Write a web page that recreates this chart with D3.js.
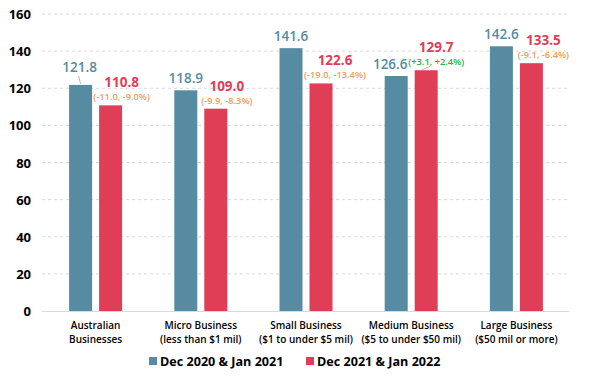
<!DOCTYPE html>
<html>
<head>
<meta charset="utf-8">
<script src="https://cdn.jsdelivr.net/npm/d3@7"></script>
<style>
  body { margin: 0; background: #fff; }
  text { font-family: "Open Sans", "Noto Sans", sans-serif; }
</style>
</head>
<body>
<div id="chart"></div>
<script>
// data
const categories = ["Australian|Businesses", "Micro Business|(less than $1 mil)", "Small Business|($1 to under $5 mil)",
                    "Medium Business|($5 to under $50 mil)", "Large Business|($50 mil or more)"];
const seriesNames = ["Dec 2020 & Jan 2021", "Dec 2021 & Jan 2022"];
const values2021 = [121.8, 118.9, 141.6, 126.6, 142.6];
const values2022 = [110.8, 109.0, 122.6, 129.7, 133.5];
const changes = ["(-11.0, -9.0%)", "(-9.9, -8.3%)", "(-19.0, -13.4%)", "(+3.1, +2.4%)", "(-9.1, -6.4%)"];
const yTicks = [0, 20, 40, 60, 80, 100, 120, 140, 160];

const width = 589, height = 383;
const marginLeft = 43, marginRight = 20, marginTop = 14, marginBottom = 72;

const blue = "#568ba1", red = "#e03e56", orange = "#f29a55", green = "#22b24c";

// label nudges (layout only)
const blueNudge = [[-1, -6], [0, 0], [0, 0], [-6, 0], [0, 0]];
const redNudge = [[11, 0], [11, 0], [14, 0], [10, 0], [12, 0]];

const svg = d3.select("#chart").append("svg")
    .attr("width", width)
    .attr("height", height);

const x = d3.scaleBand().domain(categories).range([marginLeft, width - marginRight]);
const y = d3.scaleLinear().domain([0, 160]).range([height - marginBottom, marginTop]);

// grid
svg.append("g")
    .selectAll("line")
    .data(yTicks.filter(d => d > 0))
    .enter()
    .append("line")
    .attr("x1", marginLeft - 1)
    .attr("x2", width - marginRight)
    .attr("y1", d => y(d))
    .attr("y2", d => y(d))
    .attr("stroke", "#d9d9d9")
    .attr("stroke-width", 1)
    .attr("stroke-dasharray", "3,3");

svg.append("line")
    .attr("x1", marginLeft - 1)
    .attr("x2", width - marginRight)
    .attr("y1", y(0) + 0.5)
    .attr("y2", y(0) + 0.5)
    .attr("stroke", "#d9d9d9");

// y axis labels
svg.append("g")
    .selectAll("text")
    .data(yTicks)
    .enter()
    .append("text")
    .attr("x", 31)
    .attr("y", d => y(d) + 5)
    .attr("text-anchor", "end")
    .attr("font-size", 13)
    .attr("font-weight", "bold")
    .attr("fill", "#000")
    .text(d => d);

const barW = 23, gap = 3.5;
const center = c => x(c) + x.bandwidth() / 2;

// bars
svg.append("g")
    .selectAll("rect")
    .data(values2021)
    .enter()
    .append("rect")
    .attr("x", (d, i) => center(categories[i]) - gap - barW)
    .attr("y", d => y(d))
    .attr("width", barW)
    .attr("height", d => y(0) - y(d))
    .attr("fill", blue);

svg.append("g")
    .selectAll("rect")
    .data(values2022)
    .enter()
    .append("rect")
    .attr("x", (d, i) => center(categories[i]) + gap)
    .attr("y", d => y(d))
    .attr("width", barW)
    .attr("height", d => y(0) - y(d))
    .attr("fill", red);

// blue value labels
svg.append("g")
    .selectAll("text")
    .data(values2021)
    .enter()
    .append("text")
    .attr("x", (d, i) => center(categories[i]) - gap - barW / 2 + blueNudge[i][0])
    .attr("y", (d, i) => y(d) - 7 + blueNudge[i][1])
    .attr("text-anchor", "middle")
    .attr("font-size", 13.5)
    .attr("font-weight", 600)
    .attr("fill", blue)
    .text(d => d.toFixed(1));

// red value labels + change annotation
svg.append("g")
    .selectAll("text")
    .data(values2022)
    .enter()
    .append("text")
    .attr("x", (d, i) => center(categories[i]) + gap + barW / 2 + redNudge[i][0])
    .attr("y", (d, i) => y(d) - 18)
    .attr("text-anchor", "middle")
    .attr("font-size", 13.5)
    .attr("font-weight", "bold")
    .attr("fill", red)
    .text(d => d.toFixed(1));

svg.append("g")
    .selectAll("text")
    .data(values2022)
    .enter()
    .append("text")
    .attr("x", (d, i) => center(categories[i]) + gap + barW / 2 + redNudge[i][0])
    .attr("y", (d, i) => y(d) - 5)
    .attr("text-anchor", "middle")
    .attr("font-size", 9.3)
    .attr("font-weight", 600)
    .attr("fill", (d, i) => changes[i].startsWith("(+") ? green : orange)
    .text((d, i) => changes[i]);

// leader lines
const bx0 = center(categories[0]) - gap - barW / 2;
svg.append("line")
    .attr("x1", bx0 - 2).attr("y1", y(values2021[0]) - 9)
    .attr("x2", bx0).attr("y2", y(values2021[0]) - 1)
    .attr("stroke", "#a6a6a6").attr("stroke-width", 0.8);
const rx3 = center(categories[3]) + gap + barW / 2;
svg.append("line")
    .attr("x1", rx3 - 4).attr("y1", y(values2022[3]) - 0.5)
    .attr("x2", rx3 + 4).attr("y2", y(values2022[3]) - 4)
    .attr("stroke", "#a6a6a6").attr("stroke-width", 0.8);

// category labels
const catG = svg.append("g")
    .selectAll("text")
    .data(categories)
    .enter()
    .append("text")
    .attr("x", d => center(d))
    .attr("y", y(0) + 18)
    .attr("text-anchor", "middle")
    .attr("font-size", 10)
    .attr("font-weight", 600)
    .attr("fill", "#000");

catG.selectAll("tspan")
    .data(d => d.split("|"))
    .enter()
    .append("tspan")
    .attr("x", function () { return d3.select(this.parentNode).attr("x"); })
    .attr("dy", (d, i) => i === 0 ? 0 : 14)
    .text(d => d);

// legend
const legendX = [149, 306];
const legend = svg.append("g")
    .selectAll("g")
    .data(seriesNames)
    .enter()
    .append("g")
    .attr("transform", (d, i) => `translate(${legendX[i]}, 361)`);

legend.append("rect")
    .attr("x", 0)
    .attr("y", -4)
    .attr("width", 8)
    .attr("height", 8)
    .attr("fill", (d, i) => i === 0 ? blue : red);

legend.append("text")
    .attr("x", 11)
    .attr("y", 5)
    .attr("font-size", 12.6)
    .attr("font-weight", "bold")
    .attr("fill", "#000")
    .text(d => d);
</script>
</body>
</html>
